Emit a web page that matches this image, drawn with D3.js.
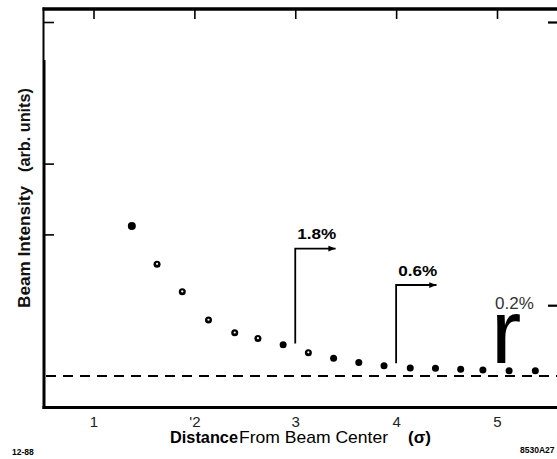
<!DOCTYPE html>
<html>
<head>
<meta charset="utf-8">
<script src="https://cdn.jsdelivr.net/npm/d3@7"></script>
<style>
  html, body { margin: 0; padding: 0; background: #fff; }
  svg { display: block; font-family: "Liberation Sans", Arial, sans-serif; }
</style>
</head>
<body>
<svg id="chart" width="557" height="459"></svg>
<script>
// ---------- data ----------
const sigma = [1.38, 1.63, 1.88, 2.14, 2.40, 2.63, 2.88, 3.13, 3.38, 3.63, 3.88, 4.14, 4.39, 4.64, 4.86, 5.12, 5.38];
const intensity = [2.12, 1.58, 1.19, 0.79, 0.61, 0.53, 0.44, 0.33, 0.25, 0.19, 0.145, 0.113, 0.109, 0.095, 0.085, 0.075, 0.075];
const hollowCenter = [false, true, true, true, true, true, false, true, false, false, false, false, false, false, false, false, false];
const xTickValues = [1, 2, 3, 4, 5];
const xTickLabels = ["1", "'2", "3", "4", "5"];
const leftTickValues = [2, 3, 5];
const rightTickValues = [1, 5];
const bracketSigma = [3, 4];
const bracketTop = [1.80, 1.285];
const bracketBottom = [0.46, 0.18];
const bracketLabels = ["1.8%", "0.6%"];
const arrowLength = 0.40;
const thirdLabel = "0.2%";
const xTitleParts = ["Distance", "From Beam Center", "(σ)"];
const yTitleParts = ["Beam Intensity", "(arb. units)"];

// ---------- layout ----------
const svg = d3.select("#chart");
const mLeft = 44, mRight = 557, mTop = 9, mBottom = 407.5;

const x = d3.scaleLinear().domain([1, 5]).range([93.5, 497]);
const y = d3.scaleLinear().domain([0, 5]).range([376, 22]);

// arrow marker
svg.append("defs").append("marker")
  .attr("id", "arr").attr("viewBox", "0 0 10 10")
  .attr("refX", 10).attr("refY", 5)
  .attr("markerWidth", 6).attr("markerHeight", 4)
  .attr("markerUnits", "strokeWidth")
  .attr("orient", "auto")
  .append("path").attr("d", "M0,1 L10,5 L0,9 Z").attr("fill", "#000");

// frame: top border
svg.append("line").attr("x1", mLeft - 1.5).attr("x2", mRight).attr("y1", mTop).attr("y2", mTop)
  .attr("stroke", "#000").attr("stroke-width", 3.5);

// top ticks (inward)
const topAxis = d3.axisBottom(x).tickValues(xTickValues).tickSize(9).tickFormat("");
const gTop = svg.append("g").attr("transform", `translate(0,${mTop + 1})`).call(topAxis);
gTop.select(".domain").remove();
gTop.selectAll(".tick line").attr("stroke", "#000").attr("stroke-width", 1.6);

// bottom axis: labels only
const bottomAxis = d3.axisBottom(x).tickValues(xTickValues).tickSize(0).tickPadding(9)
  .tickFormat((d, i) => xTickLabels[i]);
const gBot = svg.append("g").attr("transform", `translate(0,${mBottom})`).call(bottomAxis);
gBot.select(".domain").remove();
gBot.selectAll(".tick text").attr("font-size", 15).attr("fill", "#222")
  .attr("font-family", "Liberation Sans, Arial, sans-serif");
svg.append("line").attr("x1", mLeft - 1.5).attr("x2", mRight).attr("y1", mBottom).attr("y2", mBottom)
  .attr("stroke", "#000").attr("stroke-width", 3);

// left axis
const leftAxis = d3.axisRight(y).tickValues(leftTickValues).tickSize(10).tickFormat("");
const gLeft = svg.append("g").attr("transform", `translate(${mLeft},0)`).call(leftAxis);
gLeft.select(".domain").remove();
gLeft.selectAll(".tick line").attr("stroke", "#000").attr("stroke-width", 1.6);
svg.append("line").attr("x1", mLeft - 0.5).attr("x2", mLeft - 0.5).attr("y1", mTop - 1.5).attr("y2", 60)
  .attr("stroke", "#000").attr("stroke-width", 2);
svg.append("line").attr("x1", mLeft).attr("x2", mLeft).attr("y1", 60).attr("y2", mBottom + 1.5)
  .attr("stroke", "#000").attr("stroke-width", 3);

// right axis ticks (axis line off-canvas)
const rightAxis = d3.axisLeft(y).tickValues(rightTickValues).tickSize(9).tickFormat("");
const gRight = svg.append("g").attr("transform", `translate(${mRight},0)`).call(rightAxis);
gRight.select(".domain").remove();
gRight.selectAll(".tick line").attr("stroke", "#000").attr("stroke-width", 2.2);

// dashed baseline
svg.append("line").attr("x1", mLeft + 2).attr("x2", mRight).attr("y1", y(0)).attr("y2", y(0))
  .attr("stroke", "#000").attr("stroke-width", 2).attr("stroke-dasharray", "10,7");

// brackets with arrows
bracketSigma.forEach((s, i) => {
  svg.append("path")
    .attr("d", `M${x(s)},${y(bracketBottom[i])} L${x(s)},${y(bracketTop[i])} L${x(s + arrowLength)},${y(bracketTop[i])}`)
    .attr("fill", "none").attr("stroke", "#000").attr("stroke-width", 1.8)
    .attr("marker-end", "url(#arr)");
  svg.append("text")
    .attr("x", x(s) + 2).attr("y", y(bracketTop[i]) - 9.5)
    .attr("font-size", 15).attr("font-weight", "bold").attr("fill", "#000")
    .attr("textLength", 39).attr("lengthAdjust", "spacingAndGlyphs")
    .text(bracketLabels[i]);
});

// third (0.2%) marker
svg.append("text").attr("x", x(5) - 2).attr("y", y(0.94))
  .attr("font-size", 17).attr("fill", "#333").text(thirdLabel);
svg.append("text").attr("x", x(5) - 6).attr("y", y(0.185))
  .attr("font-size", 91).attr("fill", "#000").text("r");

// data points
const pts = svg.append("g");
sigma.forEach((s, i) => {
  pts.append("circle").attr("cx", x(s)).attr("cy", y(intensity[i]))
    .attr("r", i === 0 ? 4 : 3.5).attr("fill", "#000");
  if (hollowCenter[i]) {
    pts.append("circle").attr("cx", x(s)).attr("cy", y(intensity[i]) - 0.3)
      .attr("r", 1.1).attr("fill", "#fff");
  }
});

// x title
const xt = svg.append("text").attr("y", 443).attr("fill", "#000");
xt.append("tspan").attr("x", 170).attr("font-size", 16.5).attr("font-weight", "bold")
  .attr("textLength", 68).attr("lengthAdjust", "spacingAndGlyphs").text(xTitleParts[0]);
xt.append("tspan").attr("x", 239).attr("font-size", 17)
  .attr("textLength", 149).attr("lengthAdjust", "spacingAndGlyphs").text(xTitleParts[1]);
xt.append("tspan").attr("x", 408).attr("font-size", 17).attr("font-weight", "bold").text(xTitleParts[2]);

// y title
svg.append("text").attr("transform", "translate(30,308) rotate(-90)")
  .attr("font-size", 17).attr("font-weight", "bold").attr("fill", "#111")
  .attr("textLength", 122).attr("lengthAdjust", "spacingAndGlyphs").text(yTitleParts[0]);
svg.append("text").attr("transform", "translate(30,172) rotate(-90)")
  .attr("font-size", 17).attr("font-weight", "bold").attr("fill", "#111")
  .attr("textLength", 84).attr("lengthAdjust", "spacingAndGlyphs").text(yTitleParts[1]);

// footnotes
svg.append("text").attr("x", 12).attr("y", 455).attr("font-size", 8.5).attr("font-weight", "bold").text("12-88");
svg.append("text").attr("x", 520).attr("y", 453).attr("font-size", 8.5).attr("font-weight", "bold").text("8530A27");
</script>
</body>
</html>
